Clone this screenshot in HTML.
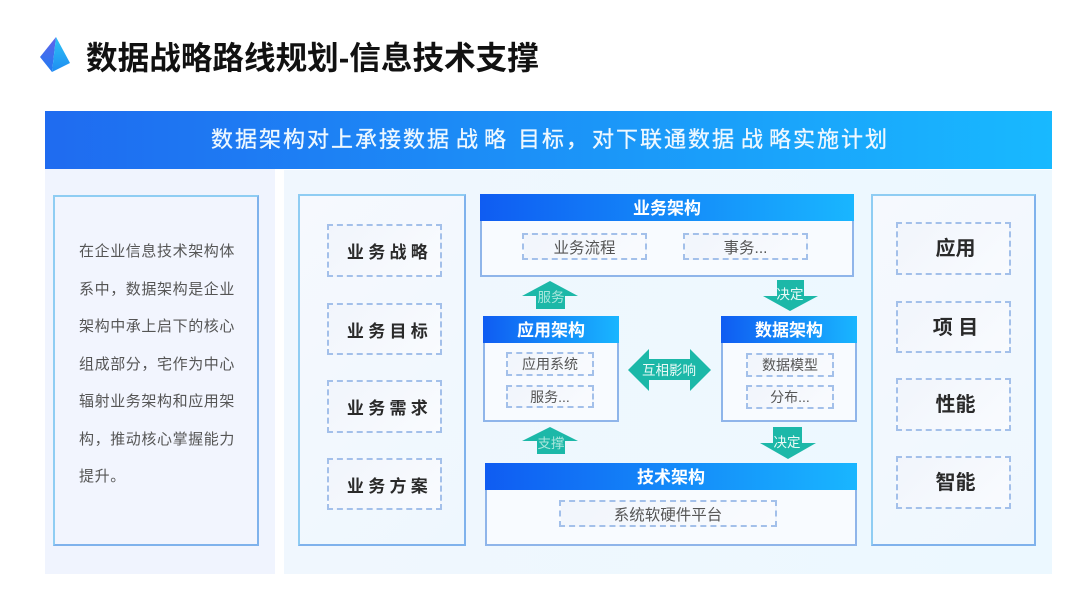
<!DOCTYPE html>
<html lang="zh"><head><meta charset="utf-8"><style>
*{box-sizing:border-box;margin:0;padding:0}
html,body{width:1080px;height:608px;background:#fff;overflow:hidden}
body{position:relative;font-family:"Liberation Sans","Noto Sans CJK SC",sans-serif;filter:blur(.35px)}
.a{position:absolute}
.t{position:absolute;white-space:nowrap;line-height:1}
.box{position:absolute;background:linear-gradient(135deg,#f6f9fe,#eef7fe);border:2px solid;border-color:#8fcdf3 #7fb2ec #7fb2ec #8fcdf3}
.d{position:absolute;border:2px dashed #a3c0ea;background:linear-gradient(135deg,#f1f5fc,#f9fbfe);display:flex;align-items:center;justify-content:center;color:#333;white-space:nowrap}
.bold{font-weight:700;font-size:17px;letter-spacing:4.3px;padding-left:10px;color:#2a2a2a}
.big{font-size:20px;font-weight:700;color:#2a2a2a;padding-bottom:4px;padding-left:4px}
.arch{position:absolute;background:#f8fbff;border:2px solid #8fb5ea}
.hd{position:absolute;left:-2px;right:-2px;top:-2px;height:27px;padding-bottom:2px;background:linear-gradient(90deg,#0f5cf2,#19b6ff);color:#fff;font-weight:700;font-size:17px;display:flex;align-items:center;justify-content:center}
.n{font-size:15.5px;color:#555}
.s{font-size:14px;color:#555}
.lt{left:79px;font-size:15px;letter-spacing:.6px;color:#555}
.bn{color:#eef8ff;font-size:22px;letter-spacing:2px;top:129px;-webkit-text-stroke:.3px #eef8ff}
</style></head><body>

<svg class="a" style="left:38px;top:35px" width="34" height="40" viewBox="38 35 34 40">
<defs>
<linearGradient id="g1" x1="0" y1="0" x2="0" y2="1"><stop offset="0" stop-color="#5f62ea"/><stop offset="1" stop-color="#1f7cf2"/></linearGradient>
<linearGradient id="g2" x1="0" y1="0" x2="0" y2="1"><stop offset="0" stop-color="#2cc4f4"/><stop offset="1" stop-color="#1f8cf2"/></linearGradient>
</defs>
<polygon points="56,37 40,57 52,72" fill="url(#g1)"/>
<polygon points="56,37 52,72 70,63" fill="url(#g2)"/>
</svg>
<div class="t" style="left:86px;top:43px;font-size:31.6px;font-weight:700;color:#111">数据战略路线规划-信息技术支撑</div>

<div class="a" style="left:45px;top:111px;width:1007px;height:58px;background:linear-gradient(90deg,#1f6bf0,#18b9ff)"></div>
<span class="t bn" style="left:211px">数据架构对上承接数据</span>
<span class="t bn" style="left:456px">战</span>
<span class="t bn" style="left:484px">略</span>
<span class="t bn" style="left:518px">目标</span>
<span class="t bn" style="left:566px">，</span>
<span class="t bn" style="left:592px">对下联通数据</span>
<span class="t bn" style="left:741px">战</span>
<span class="t bn" style="left:769px">略实施计划</span>

<div class="a" style="left:45px;top:169px;width:230px;height:405px;background:#f0f4fe"></div>
<div class="a" style="left:284px;top:170px;width:768px;height:404px;background:linear-gradient(90deg,#f0f7fe,#ecf8ff)"></div>

<div class="box" style="left:53px;top:195px;width:206px;height:351px;background:#f2f5fe"></div>
<div class="t lt" style="top:244px">在企业信息技术架构体</div>
<div class="t lt" style="top:282px">系中，数据架构是企业</div>
<div class="t lt" style="top:319px">架构中承上启下的核心</div>
<div class="t lt" style="top:357px">组成部分，宅作为中心</div>
<div class="t lt" style="top:394px">辐射业务架构和应用架</div>
<div class="t lt" style="top:432px">构，推动核心掌握能力</div>
<div class="t lt" style="top:469px">提升。</div>

<div class="box" style="left:298px;top:194px;width:168px;height:352px"></div>
<div class="d bold" style="left:327px;top:224px;width:115px;height:53px">业务战略</div>
<div class="d bold" style="left:327px;top:303px;width:115px;height:52px">业务目标</div>
<div class="d bold" style="left:327px;top:380px;width:115px;height:53px">业务需求</div>
<div class="d bold" style="left:327px;top:458px;width:115px;height:52px">业务方案</div>

<div class="box" style="left:871px;top:194px;width:165px;height:352px"></div>
<div class="d big" style="left:896px;top:222px;width:115px;height:53px">应用</div>
<div class="d big" style="left:896px;top:301px;width:115px;height:52px">项 目</div>
<div class="d big" style="left:896px;top:378px;width:115px;height:53px">性能</div>
<div class="d big" style="left:896px;top:456px;width:115px;height:53px">智能</div>

<div class="arch" style="left:480px;top:194px;width:374px;height:83px"><div class="hd">业务架构</div></div>
<div class="d n" style="left:522px;top:233px;width:125px;height:27px">业务流程</div>
<div class="d n" style="left:683px;top:233px;width:125px;height:27px">事务...</div>

<div class="arch" style="left:483px;top:316px;width:136px;height:106px"><div class="hd">应用架构</div></div>
<div class="d s" style="left:506px;top:352px;width:88px;height:24px">应用系统</div>
<div class="d s" style="left:506px;top:385px;width:88px;height:23px">服务...</div>

<div class="arch" style="left:721px;top:316px;width:136px;height:106px"><div class="hd">数据架构</div></div>
<div class="d s" style="left:746px;top:353px;width:88px;height:24px">数据模型</div>
<div class="d s" style="left:746px;top:385px;width:88px;height:24px">分布...</div>

<div class="arch" style="left:485px;top:463px;width:372px;height:83px"><div class="hd">技术架构</div></div>
<div class="d n" style="left:559px;top:500px;width:218px;height:27px">系统软硬件平台</div>

<svg class="a" style="left:0;top:0" width="1080" height="608" viewBox="0 0 1080 608" font-family="Liberation Sans, Noto Sans CJK SC, sans-serif" font-size="13.5" fill="#1cb8a8">
<polygon points="550,281 578,296 565,296 565,309 536,309 536,296 522,296"/>
<polygon points="777,280 804,280 804,296 818,296 790,311 763,296 777,296"/>
<polygon points="628,370 649,349 649,359 690,359 690,349 711,370 690,391 690,380 649,380 649,391"/>
<polygon points="550,427 578,441 565,441 565,454 537,454 537,441 522,441"/>
<polygon points="773,427 802,427 802,443 816,443 788,459 760,443 773,443"/>
<text x="551" y="302" text-anchor="middle" fill="#a8e6dc">服务</text>
<text x="790" y="299" text-anchor="middle" fill="#eafaf7">决定</text>
<text x="669" y="375" text-anchor="middle" fill="#eafaf7">互相影响</text>
<text x="551" y="448" text-anchor="middle" fill="#a8e6dc">支撑</text>
<text x="787" y="447" text-anchor="middle" fill="#eafaf7">决定</text>
</svg>
</body></html>
